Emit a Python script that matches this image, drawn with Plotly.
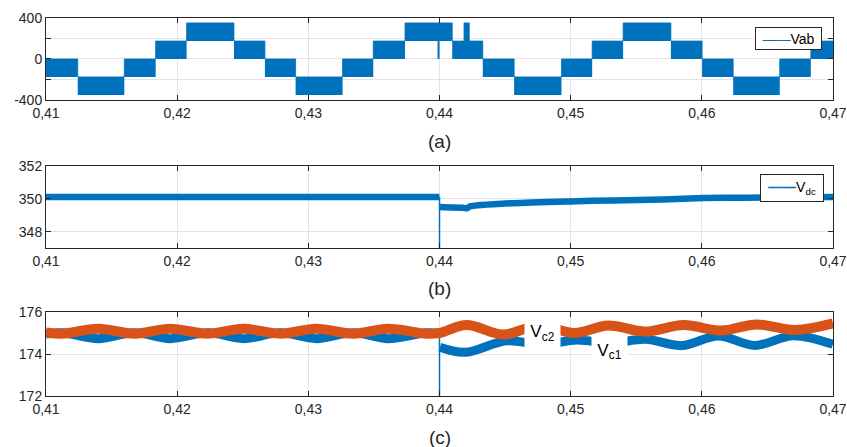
import plotly.graph_objects as go

# ---------------- data ----------------
x_ticks = [0.41, 0.42, 0.43, 0.44, 0.45, 0.46, 0.47]
x_tick_labels = ["0,41", "0,42", "0,43", "0,44", "0,45", "0,46", "0,47"]

# (a) Vab : PWM band between a lower and an upper level, per step (start time)
vab_t = [0.41000, 0.41242, 0.41597, 0.41836, 0.42072, 0.42433, 0.42669, 0.42903,
         0.43261, 0.43495, 0.43737, 0.43985, 0.44000, 0.44097, 0.44187, 0.44227,
         0.44330, 0.44569, 0.44930, 0.45164, 0.45400, 0.45764, 0.46002, 0.46239,
         0.46594, 0.46831, 0.47000]
vab_low = [-175, -352, -175, 0, 175, 0, -175, -352,
           -175, 0, 175, 0, 175, 0, 0, 0,
           -175, -352, -175, 0, 175, 0, -175, -352,
           -175, 0, 0]
vab_high = [0, -175, 0, 175, 352, 175, 0, -175,
            0, 175, 352, 352, 352, 175, 352, 175,
            0, -175, 0, 175, 352, 175, 0, -175,
            0, 175, 175]
a_y_ticks = [-400, -200, 0, 200, 400]
a_y_labels = ["-400", " ", "0", " ", "400"]

# (b) Vdc
vdc_pre_t = [0.41000, 0.43999]
vdc_pre_v = [350.10, 350.10]
vdc_drop_t = [0.44000, 0.44000]
vdc_drop_v = [350.10, 347.00]
vdc_post_t = [0.44003, 0.44180, 0.44210, 0.44230, 0.44562, 0.44995, 0.45325,
              0.45706, 0.46011, 0.46342, 0.47000]
vdc_post_v = [349.50, 349.45, 349.42, 349.53, 349.73, 349.84, 349.90,
              349.96, 350.04, 350.06, 350.10]
b_y_ticks = [348, 350, 352]
b_y_labels = ["348", "350", "352"]

# (c) capacitor voltages (ripple extrema)
vc2_t = [0.41000, 0.41120, 0.41399, 0.41678, 0.41945, 0.42237, 0.42503, 0.42784,
         0.43062, 0.43343, 0.43608, 0.43902, 0.44000, 0.44207, 0.44486, 0.44757,
         0.45030, 0.45287, 0.45567, 0.45859, 0.46151, 0.46418, 0.46710, 0.47000]
vc2_v = [175.03, 174.97, 175.20, 174.97, 175.20, 174.97, 175.20, 174.97,
         175.20, 174.97, 175.20, 174.97, 175.00, 175.38, 174.93, 175.35,
         175.00, 175.36, 175.07, 175.38, 175.12, 175.41, 175.14, 175.46]
vc1_pre_t = [0.41000, 0.41120, 0.41399, 0.41678, 0.41945, 0.42237, 0.42503,
             0.42784, 0.43062, 0.43343, 0.43608, 0.43902, 0.44000]
vc1_pre_v = [174.95, 175.01, 174.73, 175.01, 174.73, 175.01, 174.73,
             175.01, 174.73, 175.01, 174.73, 175.01, 174.98]
vc1_drop_t = [0.44000, 0.44000]
vc1_drop_v = [174.98, 172.00]
vc1_post_t = [0.44003, 0.44194, 0.44512, 0.44780, 0.45050, 0.45300, 0.45570,
              0.45846, 0.46125, 0.46405, 0.46697, 0.47000]
vc1_post_v = [174.32, 174.08, 174.63, 174.45, 174.67, 174.52, 174.70,
              174.40, 174.86, 174.41, 174.87, 174.46]
c_y_ticks = [172, 174, 176]
c_y_labels = ["172", "174", "176"]

BLUE = "#0072BD"
ORANGE = "#D95319"
INK = "#262626"
FONT = "Liberation Sans, Arial, sans-serif"

fig = go.Figure()

# ---- (a) ----
fig.add_trace(go.Scatter(x=vab_t, y=vab_low, mode="lines", line=dict(shape="hv", width=0, color=BLUE),
                         showlegend=False, xaxis="x", yaxis="y", hoverinfo="skip"))
fig.add_trace(go.Scatter(x=vab_t, y=vab_high, mode="lines", line=dict(shape="hv", width=0.8, color=BLUE),
                         fill="tonexty", fillcolor=BLUE, name="Vab", showlegend=False,
                         xaxis="x", yaxis="y"))

# ---- (b) ----
fig.add_trace(go.Scatter(x=vdc_pre_t, y=vdc_pre_v, mode="lines", line=dict(color=BLUE, width=6.5),
                         name="Vdc", showlegend=False, xaxis="x2", yaxis="y2"))
fig.add_trace(go.Scatter(x=vdc_drop_t, y=vdc_drop_v, mode="lines", line=dict(color=BLUE, width=1.5),
                         showlegend=False, xaxis="x2", yaxis="y2"))
fig.add_trace(go.Scatter(x=vdc_post_t, y=vdc_post_v, mode="lines",
                         line=dict(color=BLUE, width=6.5, shape="spline", smoothing=0.6),
                         showlegend=False, xaxis="x2", yaxis="y2"))

# ---- (c) ----
fig.add_trace(go.Scatter(x=vc1_pre_t, y=vc1_pre_v, mode="lines",
                         line=dict(color=BLUE, width=9, shape="spline", smoothing=1),
                         name="Vc1", showlegend=False, xaxis="x3", yaxis="y3"))
fig.add_trace(go.Scatter(x=vc1_drop_t, y=vc1_drop_v, mode="lines", line=dict(color=BLUE, width=1.5),
                         showlegend=False, xaxis="x3", yaxis="y3"))
fig.add_trace(go.Scatter(x=vc1_post_t, y=vc1_post_v, mode="lines",
                         line=dict(color=BLUE, width=9, shape="spline", smoothing=1),
                         showlegend=False, xaxis="x3", yaxis="y3"))
fig.add_trace(go.Scatter(x=vc2_t, y=vc2_v, mode="lines",
                         line=dict(color=ORANGE, width=10, shape="spline", smoothing=1),
                         name="Vc2", showlegend=False, xaxis="x3", yaxis="y3"))

axis_common = dict(showline=True, linecolor=INK, linewidth=1, mirror="ticks", ticks="inside",
                   ticklen=5, tickcolor=INK, showgrid=True, gridcolor="#e4e4e4", gridwidth=1,
                   zeroline=False, automargin=False,
                   tickfont=dict(family=FONT, size=14, color=INK))

def xax(anchor):
    return dict(axis_common, range=[0.41, 0.47], tickvals=x_ticks, ticktext=x_tick_labels,
                domain=[0, 1], anchor=anchor, ticklabelstandoff=0)

legend_font = dict(family=FONT, size=14, color="black")

fig.update_layout(
    width=847, height=447,
    margin=dict(l=46, r=14, t=18, b=51, autoexpand=False),
    paper_bgcolor="white", plot_bgcolor="white",
    font=dict(family=FONT, color=INK),
    showlegend=False,
    xaxis=xax("y"), xaxis2=xax("y2"), xaxis3=xax("y3"),
    yaxis=dict(axis_common, range=[-400, 400], tickvals=a_y_ticks, ticktext=a_y_labels,
               domain=[0.7831, 1], anchor="x"),
    yaxis2=dict(axis_common, range=[347, 352], tickvals=b_y_ticks, ticktext=b_y_labels,
                domain=[0.3907, 0.6093], anchor="x2"),
    yaxis3=dict(axis_common, range=[172, 176], tickvals=c_y_ticks, ticktext=c_y_labels,
                domain=[0, 0.2222], anchor="x3"),
    annotations=[
        # panel captions
        dict(text="(a)", x=0.5, y=0.6746, xref="paper", yref="paper", showarrow=False,
             yanchor="middle", font=dict(family=FONT, size=19, color=INK)),
        dict(text="(b)", x=0.5, y=0.2857, xref="paper", yref="paper", showarrow=False,
             yanchor="middle", font=dict(family=FONT, size=19, color=INK)),
        dict(text="(c)", x=0.5, y=-0.1111, xref="paper", yref="paper", showarrow=False,
             yanchor="middle", font=dict(family=FONT, size=19, color=INK)),
        # legend boxes
        dict(text='<span style="color:%s">——</span>Vab' % BLUE, x=0.986, y=0.9452,
             xref="paper", yref="paper", xanchor="right", yanchor="middle", showarrow=False,
             bgcolor="white", bordercolor=INK, borderwidth=1, borderpad=2,
             width=61, height=17, font=legend_font),
        dict(text='<span style="color:%s"><b>——</b></span>V<sub>dc</sub>' % BLUE, x=0.9886, y=0.5503,
             xref="paper", yref="paper", xanchor="right", yanchor="middle", showarrow=False,
             bgcolor="white", bordercolor=INK, borderwidth=1, borderpad=2,
             width=58, height=22, font=legend_font),
        # curve labels
        dict(text="V<sub>c2</sub>", x=0.44785, y=175.0, xref="x3", yref="y3", showarrow=False,
             bgcolor="white", borderpad=0, width=35, height=34,
             font=dict(family=FONT, size=17, color="black")),
        dict(text="V<sub>c1</sub>", x=0.45296, y=174.12, xref="x3", yref="y3", showarrow=False,
             bgcolor="white", borderpad=0, width=35, height=31,
             font=dict(family=FONT, size=17, color="black")),
    ],
)

# remove the default 8 px page margin so the figure fills the window exactly
fig.write_html("out.html", config={"displayModeBar": False},
               post_script="document.body.style.margin='0';")
